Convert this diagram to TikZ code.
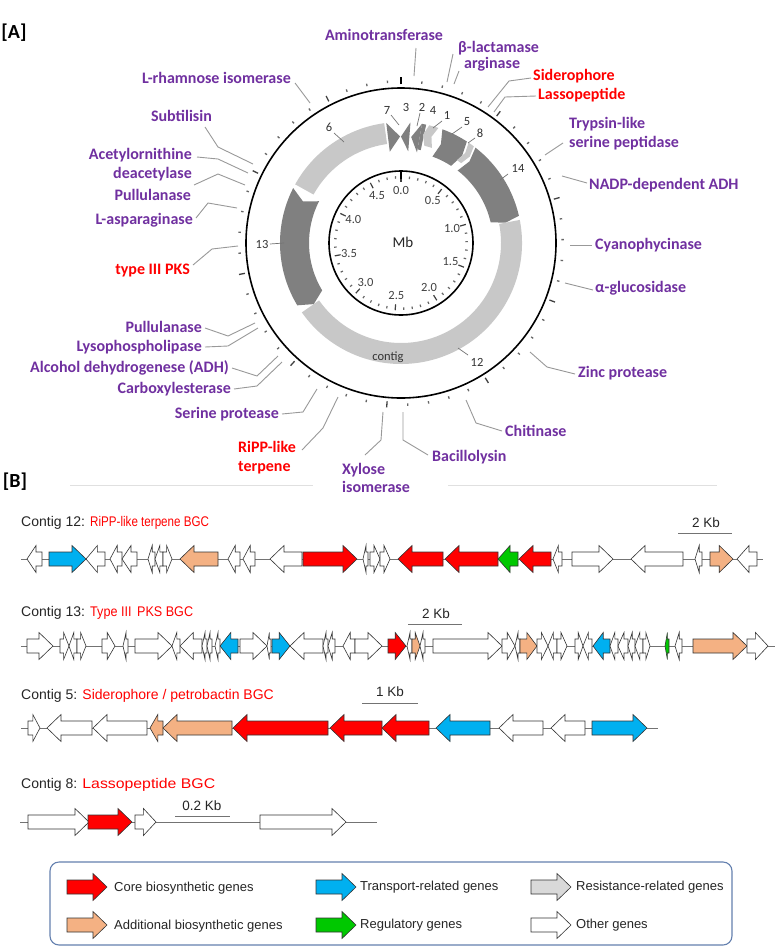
\documentclass[tikz,border=0pt]{standalone}
\usepackage{graphicx}
\usepackage{fontspec}
\setmainfont{Carlito}
\newfontfamily\arialf{Liberation Sans}
\definecolor{purp}{RGB}{112,48,160}
\definecolor{gred}{RGB}{255,0,0}
\definecolor{gblue}{RGB}{0,176,240}
\definecolor{gtan}{RGB}{244,177,131}
\definecolor{ggreen}{RGB}{0,200,0}
\definecolor{ggray}{RGB}{217,217,217}
\definecolor{rlight}{RGB}{200,200,200}
\definecolor{rdark}{RGB}{128,128,128}
\definecolor{legblue}{RGB}{100,128,175}
\newcommand{\gy}{0}
\newcommand{\gn}[4]{%
  \pgfmathsetmacro{\glen}{#2-#1}%
  \pgfmathsetmacro{\ghd}{min(14,0.6*\glen)}%
  \ifnum#3>0
    \pgfmathsetmacro{\gbx}{#2-\ghd}%
    \draw[geneline,fill=#4] (#1,\gy-7) -- (\gbx,\gy-7) -- (\gbx,\gy-13.5) -- (#2,\gy) -- (\gbx,\gy+13.5) -- (\gbx,\gy+7) -- (#1,\gy+7) -- cycle;%
  \else
    \pgfmathsetmacro{\gbx}{#1+\ghd}%
    \draw[geneline,fill=#4] (#2,\gy-7) -- (\gbx,\gy-7) -- (\gbx,\gy-13.5) -- (#1,\gy) -- (\gbx,\gy+13.5) -- (\gbx,\gy+7) -- (#2,\gy+7) -- cycle;%
  \fi}
\newcommand{\seg}[6]{\fill[#4] ({#1-90}:121) arc[start angle={#1-90}, end angle={#2-90}, radius=121] -- ({#2+#3-90}:#6) -- ({#2-90}:#5) arc[start angle={#2-90}, end angle={#1-90}, radius=#5] -- ({#1+#3-90}:#6) -- cycle;}
\newcommand{\tri}[3]{\fill[#3] ({#1-90}:121) -- ({#2-90}:106.5) -- ({#1-90}:92) -- cycle;}
\tikzset{
  lab/.style={font=\bfseries\fontsize{16}{18}\selectfont, text=purp, inner sep=0pt, text height=10.5pt, text depth=2.5pt},
  labr/.style={lab, text=gred},
  lead/.style={draw=black!40, line width=0.9pt},
  rnum/.style={font=\fontsize{12.5}{14}\selectfont, text=black!80, inner sep=0pt},
  scl/.style={font=\fontsize{12.5}{14}\selectfont, text=black!75, inner sep=0pt},
  geneline/.style={draw=black!80, line width=0.6pt, line join=miter},
  bb/.style={draw=black!55, line width=0.9pt},
  ctitle/.style={font=\arialf\fontsize{14}{16}\selectfont, inner sep=0pt, anchor=west, text height=10pt, text depth=3pt},
  sbar/.style={draw=black!55, line width=1pt},
  sbtext/.style={font=\arialf\fontsize{13.5}{16}\selectfont, text=black!85, inner sep=0pt},
  legtext/.style={font=\arialf\fontsize{13}{15}\selectfont, text=black!85, inner sep=0pt, anchor=west, text height=9pt, text depth=2.5pt},
  panel/.style={font=\bfseries\fontsize{20}{22}\selectfont, inner sep=0pt}
}
\begin{document}
\begin{tikzpicture}[x=1pt,y=-1pt]
\fill[white] (0,0) rectangle (777,948);
\useasboundingbox (0,0) rectangle (777,948);

\node[panel] (pa) at (14,33) {[A]};
\node[panel] (pb) at (15,482) {[B]};

% ---------- circular map ----------
\begin{scope}[shift={(401,243)}]
  \tri{353}{359.5}{rdark}
  \tri{4.5}{0}{rdark}
  \tri{10}{5.5}{rdark}
  \seg{10}{12}{0}{rdark}{95}{108}
  \seg{13.5}{18}{-2}{rlight}{100}{110.5}
  \seg{20}{33}{2}{rdark}{92}{106.5}
  \seg{34}{37}{1.5}{rlight}{100}{110.5}
  \seg{38}{77}{2}{rdark}{92}{106.5}
  \seg{79}{235}{0}{rlight}{100}{110.5}
  \seg{239}{297}{-4}{rdark}{92}{106.5}
  \seg{299}{352}{0}{rlight}{100}{110.5}
  \draw[line width=1.6pt] (0,0) circle[radius=155];
  \draw[line width=1.6pt] (0,0) circle[radius=72];
  \foreach \k in {0,...,48}{
    \pgfmathsetmacro{\th}{\k*7.4-90}
    \pgfmathtruncatemacro{\md}{mod(\k,5)}
    \ifnum\md=0
      \draw[line width=1.3pt, black!75] (\th:159) -- (\th:165);
      \draw[line width=1.2pt, black!75] (\th:61.5) -- (\th:67.5);
    \else
      \draw[line width=1.3pt, black!60] (\th:160.5) -- (\th:163);
      \draw[line width=1.2pt, black!60] (\th:64.5) -- (\th:67);
    \fi
  }
  \draw[line width=2.2pt] (-90:159) -- (-90:166);
  \draw[line width=2.2pt] (-90:64) -- (-90:72);
  \foreach \k/\t in {0/0.0,1/0.5,2/1.0,3/1.5,4/2.0,5/2.5,6/3.0,7/3.5,8/4.0,9/4.5}{
    \node[scl] (s\k) at ({\k*37-90}:53) {\t};
  }
  \node[font=\fontsize{15}{17}\selectfont, text=black!85, inner sep=0pt] (mb) at (2,-1) {Mb};
\end{scope}

% contig number labels
\node[rnum] (c7) at (387,110) {7};
\node[rnum] (c3) at (406,107) {3};
\node[rnum] (c2) at (422,107) {2};
\node[rnum] (c4) at (433,110) {4};
\node[rnum] (c1) at (447,115) {1};
\node[rnum] (c5) at (467,122) {5};
\node[rnum] (c8) at (480,133) {8};
\node[rnum] (c14) at (518,168) {14};
\node[rnum] (c13) at (262,244) {13};
\node[rnum] (c12) at (477,362) {12};
\node[rnum] (c6) at (329,127) {6};
\node[rnum] (ctg) at (388,357) {contig};
\begin{scope}[draw=black!55, line width=0.7pt]
\draw (391,115) -- (399,125);
\draw (420,113) -- (417,126);
\draw (442,121) -- (433,128);
\draw (462,127) -- (452,134);
\draw (475,138) -- (468,143);
\draw (508,174) -- (500,180);
\draw (270,244) -- (284,243);
\draw (468,355) -- (458,348);
\draw (334,133) -- (344,142);
\end{scope}

% ---------- gene labels ----------
\node[lab] (amino) at (384,36) {Aminotransferase};
\node[lab,anchor=west] (blac) at (458,48) {β-lactamase};
\node[lab,anchor=west] (argi) at (464,64) {arginase};
\node[labr,anchor=west] (sid) at (533,76) {Siderophore};
\node[labr,anchor=west] (lasso) at (538,95) {Lassopeptide};
\node[lab,anchor=west] (tryp1) at (569,124) {Trypsin-like};
\node[lab,anchor=west] (tryp2) at (569,143) {serine peptidase};
\node[lab,anchor=west] (nadp) at (589,185) {NADP-dependent ADH};
\node[lab,anchor=west] (cyano) at (595,245) {Cyanophycinase};
\node[lab,anchor=west] (aglu) at (595,288) {α-glucosidase};
\node[lab,anchor=west] (zinc) at (578,373) {Zinc protease};
\node[lab,anchor=west] (chit) at (505,432) {Chitinase};
\node[lab,anchor=west] (baci) at (432,457) {Bacillolysin};
\node[lab,anchor=west] (xyl1) at (342,470) {Xylose};
\node[lab,anchor=west] (xyl2) at (342,488) {isomerase};
\node[labr,anchor=west] (ripp1) at (238,448) {RiPP-like};
\node[labr,anchor=west] (ripp2) at (238,467) {terpene};
\node[lab,anchor=east] (serp) at (279,414) {Serine protease};
\node[lab,anchor=east] (carb) at (231,389) {Carboxylesterase};
\node[lab,anchor=east] (alc) at (229,368) {Alcohol dehydrogenese (ADH)};
\node[lab,anchor=east] (lyso) at (202,347) {Lysophospholipase};
\node[lab,anchor=east] (pull2) at (202,328) {Pullulanase};
\node[labr,anchor=east] (pks) at (190,270) {type III PKS};
\node[lab,anchor=east] (lasp) at (193,220) {L-asparaginase};
\node[lab,anchor=east] (pull1) at (191,196) {Pullulanase};
\node[lab,anchor=east] (acet1) at (192,155) {Acetylornithine};
\node[lab,anchor=east] (acet2) at (192,174) {deacetylase};
\node[lab,anchor=east] (subt) at (212,117) {Subtilisin};
\node[lab,anchor=east] (rham) at (291,79) {L-rhamnose isomerase};

% leaders
\draw[lead] (416,48) -- (414,76);
\draw[lead] (453,54) -- (447,82);
\draw[lead] (459,71) -- (454,84);
\draw[lead] (531,78) -- (509,81) -- (488,107);
\draw[lead] (536,96) -- (505,97) -- (494,112);
\draw[lead] (563,143) -- (545,155);
\draw[lead] (587,183) -- (562,176);
\draw[lead] (570,245) -- (592,245);
\draw[lead] (565,283) -- (593,290);
\draw[lead] (530,352) -- (547,367) -- (575,374);
\draw[lead] (466,400) -- (476,423) -- (502,431);
\draw[lead] (403,412) -- (403,440) -- (428,455);
\draw[lead] (383,412) -- (381,440) -- (365,455);
\draw[lead] (302,450) -- (323,428) -- (338,397);
\draw[lead] (282,414) -- (303,412) -- (317,389);
\draw[lead] (234,389) -- (257,386) -- (282,362);
\draw[lead] (232,368) -- (257,376) -- (278,356);
\draw[lead] (205,347) -- (228,346) -- (258,328);
\draw[lead] (205,328) -- (228,336) -- (255,323);
\draw[lead] (193,265) -- (212,249) -- (238,246);
\draw[lead] (196,218) -- (208,203) -- (237,208);
\draw[lead] (194,185) -- (218,174) -- (245,185);
\draw[lead] (197,157) -- (218,159) -- (248,173);
\draw[lead] (205,127) -- (218,147) -- (253,164);
\draw[lead] (295,83) -- (310,103);

\draw[black!12, line width=0.8pt] (70,485) -- (313,485) (448,485) -- (717,485);

% ---------- Contig 12 ----------
\node[ctitle] (t12) at (21,523) {\textcolor{black!85}{Contig 12:} \textcolor{gred}{\scalebox{0.83}[1]{RiPP-like terpene BGC}}};
\draw[bb] (21,559) -- (763,559);
\def\gy{559}
\foreach \xa/\xb/\dr/\cl in {27/42/-1/white, 49/86/1/gblue, 86/105/-1/white, 110/122/-1/white, 122/137/-1/white, 148/155/-1/white, 155/163/-1/white, 163/172/1/white, 180/218/-1/gtan, 228/240/-1/white, 243/255/-1/white, 270/302/-1/white, 303/357/1/gred, 363/368/-1/white, 370/380/1/white, 380/390/1/white, 398/443/-1/gred, 445/498/-1/gred, 498/518/-1/ggreen, 519/551/-1/gred, 553/562/-1/white, 572/613/1/white, 631/683/-1/white, 695/702/-1/white, 710/733/1/gtan, 737/757/-1/white}{\gn{\xa}{\xb}{\dr}{\cl}}
\draw[sbar] (678,533) -- (732,533);
\node[sbtext] (sb12) at (706,523) {2 Kb};

% ---------- Contig 13 ----------
\node[ctitle] (t13) at (21,613) {\textcolor{black!85}{Contig 13:} \textcolor{gred}{\scalebox{0.9}[1]{Type III\, PKS BGC}}};
\draw[bb] (21,646) -- (775,646);
\def\gy{646}
\foreach \xa/\xb/\dr/\cl in {27/53/1/white, 60/69/1/white, 69/77/-1/white, 77/86/1/white, 102/115/1/white, 123/128/-1/white, 135/172/1/white, 172/180/-1/white, 180/202/-1/white, 202/207/-1/white, 207/212/-1/white, 215/220/-1/white, 220/238/-1/gblue, 240/267/1/white, 267/271/-1/white, 272/290/1/gblue, 290/323/-1/white, 323/328/-1/white, 328/335/-1/white, 343/355/-1/white, 355/382/1/white, 388/406/1/gred, 407/412/-1/white, 412/420/1/gtan, 420/425/-1/white, 433/502/1/white, 502/515/1/white, 515/520/-1/white, 520/537/1/gtan, 537/548/1/white, 548/557/-1/white, 557/567/1/white, 575/583/1/white, 583/592/-1/white, 593/610/-1/gblue, 610/618/-1/white, 618/628/-1/white, 628/635/-1/white, 635/643/-1/white, 643/650/1/white, 665/669/-1/ggreen, 675/682/-1/white, 693/747/1/gtan, 747/768/1/white}{\gn{\xa}{\xb}{\dr}{\cl}}
\draw[sbar] (408,624) -- (462,624);
\node[sbtext] (sb13) at (436,614) {2 Kb};

% ---------- Contig 5 ----------
\node[ctitle] (t5) at (21,696) {\textcolor{black!85}{Contig 5:} \textcolor{gred}{Siderophore / petrobactin BGC}};
\draw[bb] (21,728) -- (658,728);
\def\gy{728}
\foreach \xa/\xb/\dr/\cl in {28/40/1/white, 47/92/-1/white, 93/147/-1/white, 150/163/-1/gtan, 163/232/-1/gtan, 233/328/-1/gred, 330/382/-1/gred, 382/429/-1/gred, 436/490/-1/gblue, 499/543/-1/white, 551/585/-1/white, 592/647/1/gblue}{\gn{\xa}{\xb}{\dr}{\cl}}
\draw[sbar] (362,703) -- (418,703);
\node[sbtext] (sb5) at (390,692) {1 Kb};

% ---------- Contig 8 ----------
\node[ctitle] (t8) at (21,785) {\textcolor{black!85}{Contig 8:} \textcolor{gred}{\scalebox{1.13}[1]{Lassopeptide BGC}}};
\draw[bb] (20,822) -- (377,822);
\def\gy{822}
\foreach \xa/\xb/\dr/\cl in {28/89/1/white, 135/156/1/white, 88/132/1/gred, 260/346/1/white}{\gn{\xa}{\xb}{\dr}{\cl}}
\draw[sbar] (175,816) -- (230,816);
\node[sbtext] (sb8) at (202,806) {0.2 Kb};

% ---------- legend ----------
\draw[draw=legblue, line width=1.1pt, rounded corners=9pt] (50,862) rectangle (732,945);
\def\gy{887}
\foreach \xa/\xb/\dr/\cl in {67/107/1/gred, 316/356/1/gblue, 531/571/1/ggray}{\gn{\xa}{\xb}{\dr}{\cl}}
\def\gy{925}
\foreach \xa/\xb/\dr/\cl in {67/107/1/gtan, 316/356/1/ggreen, 531/571/1/white}{\gn{\xa}{\xb}{\dr}{\cl}}
\node[legtext] (l1) at (114,888) {Core biosynthetic genes};
\node[legtext] (l2) at (360,887) {Transport-related genes};
\node[legtext] (l3) at (576,887) {Resistance-related genes};
\node[legtext] (l4) at (114,926) {Additional biosynthetic genes};
\node[legtext] (l5) at (360,925) {Regulatory genes};
\node[legtext] (l6) at (576,925) {Other genes};
\end{tikzpicture}
\end{document}
